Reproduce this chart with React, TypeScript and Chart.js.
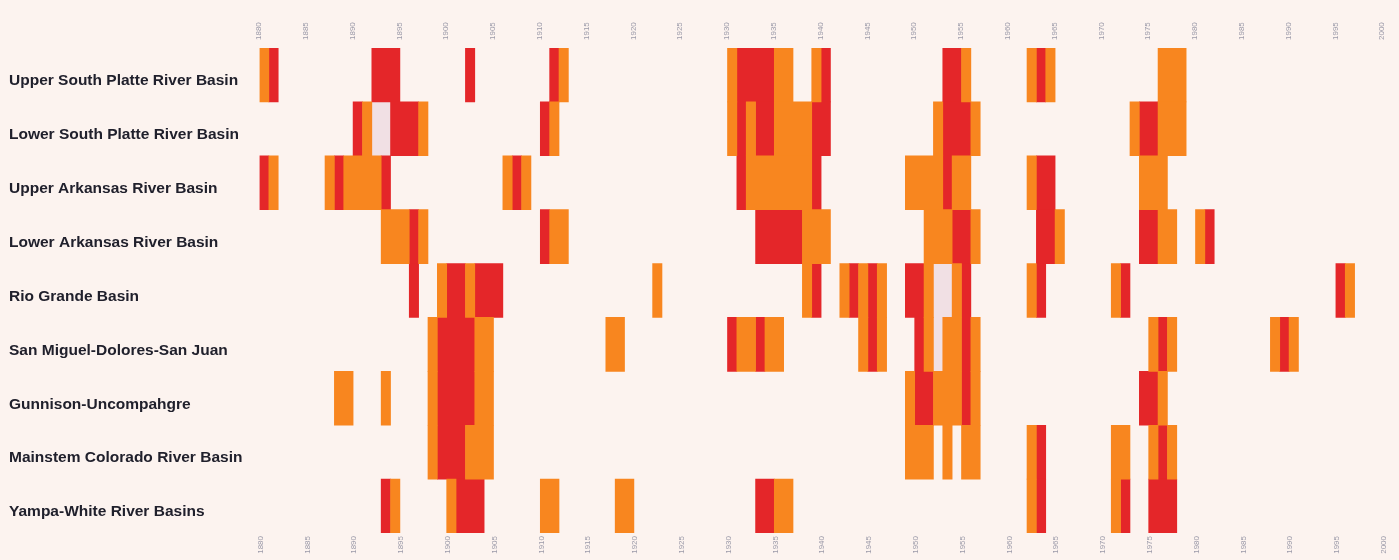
import React, { useEffect, useRef } from 'react';
import { Chart, registerables } from 'chart.js';

Chart.register(...registerables);

const basins = [
  'Upper South Platte River Basin',
  'Lower South Platte River Basin',
  'Upper Arkansas River Basin',
  'Lower Arkansas River Basin',
  'Rio Grande Basin',
  'San Miguel-Dolores-San Juan',
  'Gunnison-Uncompahgre',
  'Mainstem Colorado River Basin',
  'Yampa-White River Basins',
];

const firstYear = 1880;
const lastYear = 2000;
const tickStep = 5;

// Moderate drought years (orange), severe drought years (red), pale gaps
const upperSouthPlatteModerate = [1880, 1912, 1930, 1935, 1936, 1939, 1955, 1962, 1964, 1976, 1977, 1978];
const upperSouthPlatteSevere = [1881, 1892, 1893, 1894, 1902, 1911, 1931, 1932, 1933, 1934, 1940, 1953, 1954, 1963];

const lowerSouthPlatteModerate = [1891, 1897, 1911, 1930, 1932, 1935, 1936, 1937, 1938, 1952, 1956, 1973, 1976, 1977, 1978];
const lowerSouthPlatteSevere = [1890, 1894, 1895, 1896, 1910, 1931, 1933, 1934, 1939, 1940, 1953, 1954, 1955, 1974, 1975];
const lowerSouthPlattePale = [1892, 1893];

const upperArkansasModerate = [1881, 1887, 1889, 1890, 1891, 1892, 1906, 1908, 1932, 1933, 1934, 1935, 1936, 1937, 1938, 1949, 1950, 1951, 1952, 1954, 1955, 1962, 1974, 1975, 1976];
const upperArkansasSevere = [1880, 1888, 1893, 1907, 1931, 1939, 1953, 1963, 1964];

const lowerArkansasModerate = [1893, 1894, 1895, 1897, 1911, 1912, 1938, 1939, 1940, 1951, 1952, 1953, 1956, 1965, 1976, 1977, 1980];
const lowerArkansasSevere = [1896, 1910, 1933, 1934, 1935, 1936, 1937, 1954, 1955, 1963, 1964, 1974, 1975, 1981];

const rioGrandeModerate = [1899, 1902, 1922, 1938, 1942, 1944, 1946, 1951, 1954, 1962, 1971, 1996];
const rioGrandeSevere = [1896, 1900, 1901, 1903, 1904, 1905, 1939, 1943, 1945, 1949, 1950, 1955, 1963, 1972, 1995];
const rioGrandePale = [1952, 1953];

const sanMiguelModerate = [1898, 1903, 1904, 1917, 1918, 1931, 1932, 1934, 1935, 1944, 1946, 1951, 1953, 1954, 1956, 1975, 1977, 1988, 1990];
const sanMiguelSevere = [1899, 1900, 1901, 1902, 1930, 1933, 1945, 1950, 1955, 1976, 1989];
const sanMiguelPale = [1952];

const gunnisonModerate = [1888, 1889, 1893, 1898, 1903, 1904, 1949, 1952, 1953, 1954, 1956, 1976];
const gunnisonSevere = [1899, 1900, 1901, 1902, 1950, 1951, 1955, 1974, 1975];

const mainstemModerate = [1898, 1902, 1903, 1904, 1949, 1950, 1951, 1953, 1955, 1956, 1962, 1971, 1972, 1975, 1977];
const mainstemSevere = [1899, 1900, 1901, 1963, 1976];

const yampaModerate = [1894, 1900, 1910, 1911, 1918, 1919, 1935, 1936, 1962, 1971];
const yampaSevere = [1893, 1901, 1902, 1903, 1933, 1934, 1963, 1972, 1975, 1976, 1977];

const moderateByBasin = [
  upperSouthPlatteModerate, lowerSouthPlatteModerate, upperArkansasModerate, lowerArkansasModerate,
  rioGrandeModerate, sanMiguelModerate, gunnisonModerate, mainstemModerate, yampaModerate,
];
const severeByBasin = [
  upperSouthPlatteSevere, lowerSouthPlatteSevere, upperArkansasSevere, lowerArkansasSevere,
  rioGrandeSevere, sanMiguelSevere, gunnisonSevere, mainstemSevere, yampaSevere,
];
const paleByBasin = [[], lowerSouthPlattePale, [], [], rioGrandePale, sanMiguelPale, [], [], []];

function toRuns(lists: number[][]) {
  const out: { x: [number, number]; y: string }[] = [];
  lists.forEach((years, i) => {
    const sorted = [...years].sort((a, b) => a - b);
    let start: number | null = null;
    let prev = 0;
    sorted.forEach((yr) => {
      if (start === null) { start = yr; prev = yr; return; }
      if (yr === prev + 1) { prev = yr; return; }
      out.push({ x: [start, prev + 1], y: basins[i] });
      start = yr; prev = yr;
    });
    if (start !== null) out.push({ x: [start, prev + 1], y: basins[i] });
  });
  return out;
}

const ORANGE = '#f8861f';
const RED = '#e42629';
const PALE = '#f1e0e4';
const PAPER = '#fcf3ef';

export default function App() {
  const ref = useRef<HTMLCanvasElement | null>(null);

  useEffect(() => {
    document.body.style.margin = '0';
    document.body.style.background = PAPER;
    document.body.style.overflow = 'hidden';
    if (!ref.current) return;

    const tickFont = { size: 8, family: 'Liberation Sans' };
    const yearAxis = (position: 'top' | 'bottom', height: number, padding: number, labelOffset: number) => ({
      type: 'linear' as const,
      position,
      min: firstYear,
      max: lastYear,
      grid: { display: false, drawTicks: false },
      border: { display: false },
      ticks: {
        stepSize: tickStep,
        autoSkip: false,
        minRotation: 90,
        maxRotation: 90,
        padding,
        labelOffset,
        color: '#9a99a8',
        font: tickFont,
        callback: (v: any) => String(v),
      },
      afterFit: (s: any) => { s.height = height; },
    });

    const chart = new Chart(ref.current, {
      type: 'bar',
      data: {
        labels: basins,
        datasets: [
          { label: 'Moderate', data: toRuns(moderateByBasin) as any, backgroundColor: ORANGE },
          { label: 'Severe', data: toRuns(severeByBasin) as any, backgroundColor: RED },
          { label: 'Pale', data: toRuns(paleByBasin) as any, backgroundColor: PALE },
        ],
      },
      options: {
        indexAxis: 'y',
        animation: false,
        responsive: false,
        devicePixelRatio: 1,
        layout: { padding: { left: 9, right: 16.3, top: 0, bottom: 0 } },
        datasets: {
          bar: {
            grouped: false,
            barPercentage: 1,
            categoryPercentage: 1,
            borderWidth: 0,
            borderSkipped: false,
          },
        },
        plugins: { legend: { display: false }, tooltip: { enabled: false } },
        scales: {
          x: yearAxis('bottom', 27, 3, 1) as any,
          x2: yearAxis('top', 48, 8, 9) as any,
          y: {
            type: 'category',
            position: 'left',
            grid: { display: false, drawTicks: false },
            border: { display: false },
            ticks: {
              crossAlign: 'far',
              padding: 0,
              labelOffset: 6,
              color: '#20202c',
              font: { size: 15.5, weight: 'bold', family: 'Liberation Sans' },
            },
            afterFit: (s: any) => { s.width = 250.5; },
          },
        },
      },
    });
    return () => chart.destroy();
  }, []);

  return (
    <div style={{ width: 1399, height: 560, background: PAPER }}>
      <canvas ref={ref} width={1399} height={560} style={{ display: 'block' }} />
    </div>
  );
}
